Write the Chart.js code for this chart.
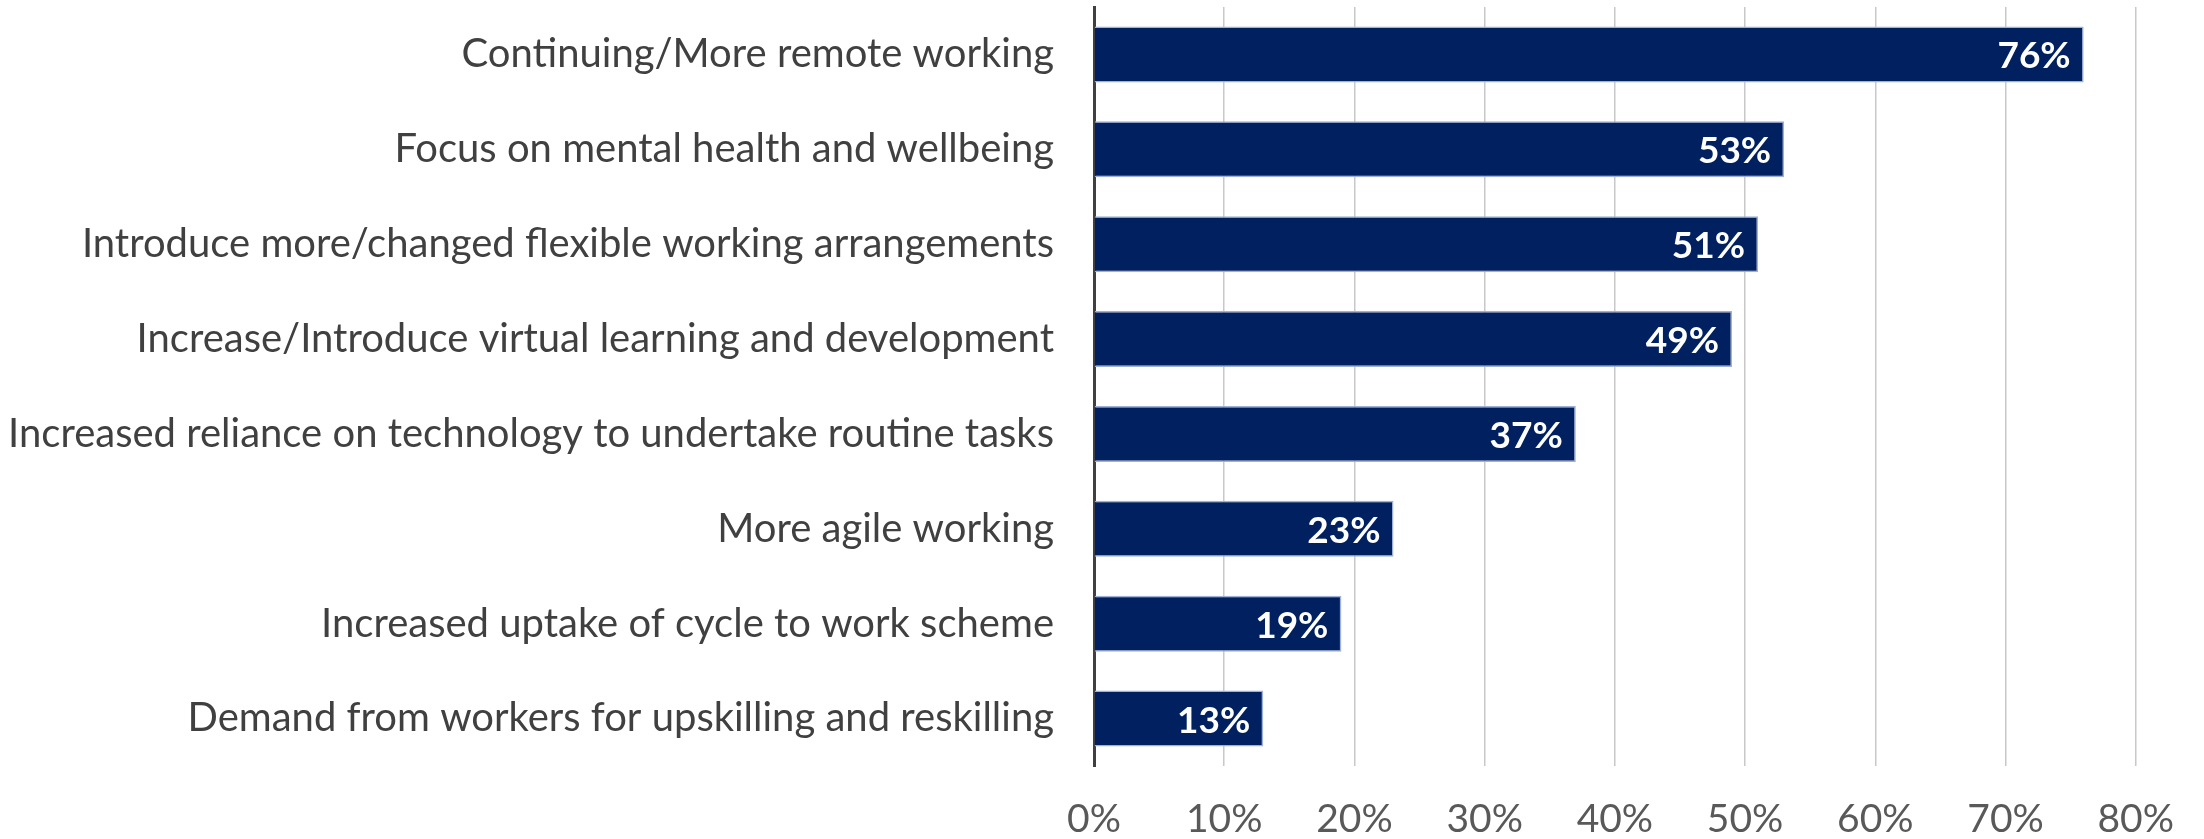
<!DOCTYPE html>
<html>
<head>
<meta charset="utf-8">
<script src="https://cdn.jsdelivr.net/npm/chart.js@4.4.1/dist/chart.umd.min.js"></script>
<style>
  html, body { margin: 0; padding: 0; background: #fff; }
  #wrap { width: 2204px; height: 839px; }
</style>
</head>
<body>
<div id="wrap"><canvas id="myChart" width="2204" height="839"></canvas></div>
<script>
const categories = [
  'Continuing/More remote working',
  'Focus on mental health and wellbeing',
  'Introduce more/changed flexible working arrangements',
  'Increase/Introduce virtual learning and development',
  'Increased reliance on technology to undertake routine tasks',
  'More agile working',
  'Increased uptake of cycle to work scheme',
  'Demand from workers for upskilling and reskilling'
];
const shares = [76, 53, 51, 49, 37, 23, 19, 13];
const tickValues = [0, 10, 20, 30, 40, 50, 60, 70, 80];

const fontFamily = 'Lato, "Open Sans", sans-serif';

// white bold value drawn inside the end of each bar
const valueLabels = {
  id: 'valueLabels',
  afterDatasetsDraw(chart) {
    const ctx = chart.ctx;
    const meta = chart.getDatasetMeta(0);
    ctx.save();
    ctx.fillStyle = '#ffffff';
    ctx.font = 'bold 37px ' + fontFamily;
    ctx.textAlign = 'right';
    ctx.textBaseline = 'middle';
    meta.data.forEach((bar, i) => {
      ctx.fillText(shares[i] + '%', bar.x - 13, bar.y + 2);
    });
    ctx.restore();
  }
};

const ctx = document.getElementById('myChart').getContext('2d');
const myChart = new Chart(ctx, {
  type: 'bar',
  data: {
    labels: categories,
    datasets: [{
      data: shares,
      backgroundColor: '#002060',
      borderColor: '#9fb1d6',
      borderWidth: 1.5,
      borderSkipped: 'start',
      categoryPercentage: 0.59,
      barPercentage: 1
    }]
  },
  options: {
    indexAxis: 'y',
    responsive: false,
    animation: false,
    layout: { padding: { top: 7, right: 66, left: 0, bottom: 0 } },
    plugins: {
      legend: { display: false },
      tooltip: { enabled: false }
    },
    scales: {
      x: {
        min: 0,
        max: 80,
        afterBuildTicks(axis) {
          axis.ticks = tickValues.map(v => ({ value: v }));
        },
        afterFit(axis) { axis.height = 73; },
        grid: { color: '#c8c8c8', lineWidth: 1.5, drawTicks: false },
        border: { display: false },
        ticks: {
          padding: 30,
          color: '#595959',
          font: { family: fontFamily, size: 39 },
          callback: v => v + '%'
        }
      },
      y: {
        afterFit(axis) {
          axis.width = 1094;
          axis.paddingTop = 0;
          axis.paddingBottom = 0;
        },
        grid: { display: false, drawTicks: false },
        border: { display: true, color: '#404040', width: 3 },
        ticks: {
          padding: 40,
          color: '#404040',
          font: { family: fontFamily, size: 40 }
        }
      }
    }
  },
  plugins: [valueLabels]
});
</script>
</body>
</html>
